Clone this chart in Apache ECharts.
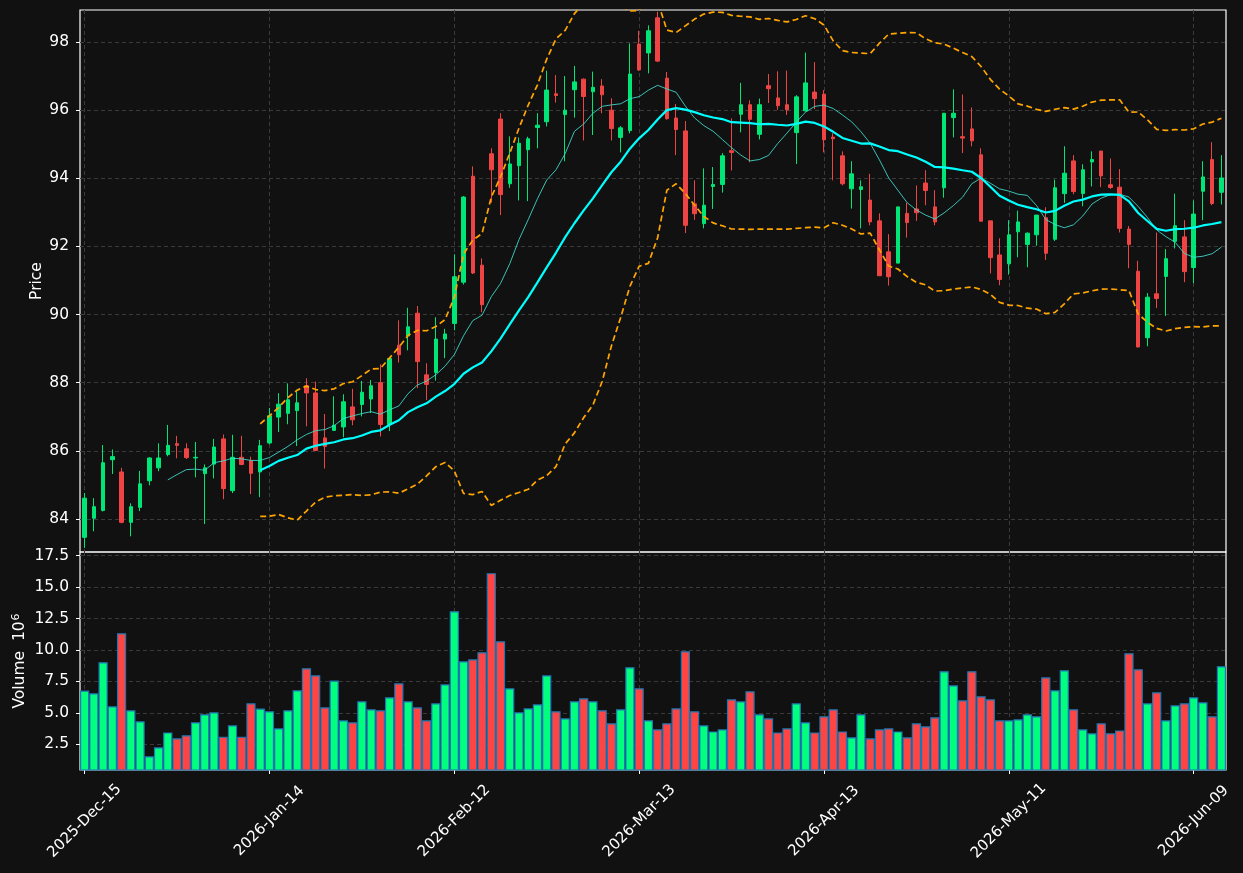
<!DOCTYPE html>
<html>
<head>
<meta charset="utf-8">
<script src="https://cdn.jsdelivr.net/npm/echarts@6/dist/echarts.min.js"></script>
<style>
    html, body { margin: 0; padding: 0; background: #111111; }
    #chart { width: 1243px; height: 873px; }
</style>
</head>
<body>
<div id="chart"></div>
<script>
// Daily OHLC (124 NYSE sessions from 2025-12-15)
const opens = [
    83.46, 84.02, 84.25, 85.74, 85.38, 83.90, 84.34, 85.12, 85.50, 85.89,
    86.21, 86.06, 85.79, 85.33, 85.61, 86.35, 84.83, 85.81, 85.71, 85.38,
    86.23, 86.99, 87.10, 87.18, 87.91, 87.70, 86.38, 86.60, 86.70, 87.29,
    87.36, 87.52, 88.00, 86.77, 89.10, 89.37, 90.04, 88.23, 88.30, 89.28,
    89.74, 90.95, 94.06, 91.45, 94.72, 95.74, 93.84, 94.37, 94.84, 95.49,
    95.66, 96.48, 95.87, 96.60, 96.91, 96.54, 96.71, 96.00, 95.20, 95.40,
    97.94, 97.68, 98.71, 96.94, 95.77, 95.39, 93.25, 92.67, 93.76, 93.82,
    94.81, 95.88, 96.16, 95.29, 96.72, 96.36, 96.16, 95.34, 95.98, 96.53,
    96.47, 95.21, 94.66, 93.69, 93.67, 93.36, 92.75, 91.84, 91.51, 92.97,
    93.10, 93.86, 93.16, 93.72, 95.78, 95.22, 95.45, 94.69, 92.75, 91.75,
    91.49, 92.43, 92.06, 92.34, 92.84, 92.21, 93.55, 94.51, 93.55, 94.48,
    94.80, 93.81, 93.74, 92.51, 91.27, 89.32, 90.61, 91.12, 92.15, 92.28,
    91.38, 93.62, 94.55, 93.59
];
const closes = [
    84.61, 84.36, 85.65, 85.83, 83.90, 84.36, 85.03, 85.79, 85.79, 86.16,
    86.16, 85.80, 85.81, 85.50, 86.11, 84.89, 85.81, 85.60, 85.34, 86.15,
    87.03, 87.37, 87.50, 87.41, 87.70, 86.01, 86.13, 86.75, 87.44, 86.91,
    87.72, 87.91, 86.77, 88.71, 88.82, 89.64, 88.62, 87.95, 89.28, 89.43,
    91.11, 93.45, 91.22, 90.29, 94.25, 93.52, 94.42, 95.03, 95.16, 95.56,
    96.59, 96.43, 96.00, 96.83, 96.40, 96.67, 96.45, 95.46, 95.48, 97.06,
    97.18, 98.33, 97.44, 95.75, 95.43, 92.62, 92.96, 93.21, 93.82, 94.66,
    94.76, 96.16, 95.73, 96.16, 96.63, 96.13, 96.01, 96.39, 96.80, 96.34,
    95.13, 95.16, 93.84, 94.13, 93.75, 92.72, 91.14, 91.11, 93.16, 92.70,
    92.99, 93.64, 92.72, 95.91, 95.91, 95.18, 95.10, 92.74, 91.67, 91.03,
    92.34, 92.72, 92.39, 92.92, 91.80, 93.72, 94.15, 93.61, 94.25, 94.55,
    94.07, 93.73, 92.53, 92.06, 89.05, 90.51, 90.47, 91.64, 92.61, 91.26,
    92.95, 94.04, 93.26, 94.01
];
const lows = [
    83.15, 83.64, 84.22, 85.32, 83.87, 83.49, 84.23, 84.99, 85.40, 85.84,
    85.78, 85.76, 85.22, 83.85, 85.19, 84.58, 84.76, 85.58, 84.73, 84.64,
    86.19, 86.55, 86.78, 86.14, 86.72, 85.99, 85.48, 86.58, 86.40, 86.75,
    87.01, 87.11, 86.42, 86.58, 88.59, 88.95, 87.84, 87.49, 88.06, 88.72,
    89.54, 90.88, 91.19, 90.07, 93.28, 92.92, 93.72, 93.35, 93.33, 94.88,
    95.52, 96.22, 94.50, 95.78, 95.11, 95.27, 95.91, 95.11, 94.76, 95.32,
    97.15, 97.08, 97.41, 95.72, 94.68, 92.39, 92.78, 92.53, 93.10, 93.58,
    94.23, 95.35, 94.47, 95.14, 96.21, 96.01, 95.86, 94.42, 95.96, 96.03,
    94.76, 93.94, 93.79, 93.11, 92.53, 92.62, 91.14, 90.85, 91.51, 92.26,
    92.75, 93.21, 92.62, 93.43, 95.20, 94.74, 94.94, 92.74, 91.21, 90.86,
    91.17, 91.68, 91.39, 92.02, 91.60, 92.16, 93.28, 93.53, 93.18, 93.76,
    93.74, 93.69, 92.41, 91.36, 89.03, 89.07, 90.19, 89.96, 91.94, 90.95,
    90.92, 92.77, 93.21, 93.23
];
const highs = [
    84.76, 84.61, 86.17, 86.04, 85.50, 84.46, 85.41, 85.81, 86.22, 86.76,
    86.44, 86.22, 86.26, 85.60, 86.35, 86.48, 86.47, 86.44, 85.83, 86.32,
    87.26, 87.69, 87.98, 87.75, 88.13, 88.03, 87.08, 87.60, 87.66, 87.82,
    88.05, 88.08, 88.54, 88.74, 89.83, 90.20, 90.25, 88.57, 89.92, 89.58,
    91.77, 93.48, 94.35, 91.65, 94.88, 95.91, 95.23, 95.20, 95.22, 95.91,
    97.16, 97.03, 97.00, 97.30, 96.93, 97.13, 96.91, 96.35, 95.53, 97.96,
    98.33, 98.49, 98.89, 97.12, 96.18, 95.68, 93.94, 94.29, 94.33, 94.74,
    95.76, 96.80, 96.29, 96.34, 97.06, 97.14, 97.16, 96.44, 97.69, 97.41,
    96.59, 95.32, 94.79, 94.50, 93.94, 94.13, 92.97, 92.36, 93.16, 93.28,
    93.79, 94.24, 93.65, 95.91, 96.61, 96.46, 96.08, 94.88, 92.75, 92.24,
    92.77, 93.05, 92.41, 92.92, 93.15, 93.96, 94.94, 94.68, 94.41, 94.79,
    94.80, 94.58, 94.27, 92.60, 91.58, 90.63, 92.41, 91.92, 93.55, 92.77,
    93.35, 94.50, 95.06, 94.68
];
// Volume in millions
const volumes = [
    6.77, 6.56, 9.03, 5.52, 11.33, 5.21, 4.33, 1.55, 2.26, 3.45,
    2.98, 3.22, 4.25, 4.89, 5.05, 3.11, 4.01, 3.11, 5.76, 5.34,
    5.13, 3.77, 5.21, 6.80, 8.55, 7.99, 5.44, 7.57, 4.41, 4.25,
    5.92, 5.29, 5.21, 6.24, 7.35, 5.92, 5.44, 4.41, 5.76, 7.27,
    13.08, 9.10, 9.26, 9.82, 16.11, 10.70, 6.96, 5.05, 5.36, 5.68,
    7.99, 5.13, 4.57, 5.92, 6.16, 5.92, 5.21, 4.17, 5.29, 8.63,
    6.96, 4.41, 3.69, 4.17, 5.36, 9.90, 5.13, 4.01, 3.53, 3.69,
    6.08, 5.92, 6.72, 4.89, 4.57, 3.45, 3.77, 5.76, 4.25, 3.45,
    4.73, 5.29, 3.53, 3.06, 4.89, 2.98, 3.69, 3.77, 3.53, 3.06,
    4.17, 3.93, 4.65, 8.31, 7.19, 6.00, 8.31, 6.32, 6.08, 4.41,
    4.41, 4.49, 4.89, 4.73, 7.83, 6.80, 8.39, 5.29, 3.69, 3.38,
    4.17, 3.38, 3.61, 9.74, 8.47, 5.76, 6.64, 4.41, 5.60, 5.76,
    6.24, 5.84, 4.73, 8.71
];

const PRICE_TICKS = [84, 86, 88, 90, 92, 94, 96, 98];
const VOLUME_TICKS = [2.5, 5, 7.5, 10, 12.5, 15, 17.5];
const HOLIDAYS = ['2025-12-25', '2026-01-01', '2026-01-19', '2026-02-16', '2026-04-03', '2026-05-25'];
const MONTHS = ['Jan', 'Feb', 'Mar', 'Apr', 'May', 'Jun', 'Jul', 'Aug', 'Sep', 'Oct', 'Nov', 'Dec'];

const FONT = 'DejaVu Sans';
const UP = '#00e676';
const DOWN = '#ef4444';

// Build trading-day labels like 2026-Jan-14
function tradingDays(start, count) {
    const days = [];
    const d = new Date(start + 'T00:00:00Z');
    while (days.length < count) {
        const iso = d.toISOString().slice(0, 10);
        const wd = d.getUTCDay();
        if (wd !== 0 && wd !== 6 && !HOLIDAYS.includes(iso)) {
            const dd = String(d.getUTCDate()).padStart(2, '0');
            days.push(d.getUTCFullYear() + '-' + MONTHS[d.getUTCMonth()] + '-' + dd);
        }
        d.setUTCDate(d.getUTCDate() + 1);
    }
    return days;
}
const dates = tradingDays('2025-12-15', closes.length);

function rollingMean(arr, n) {
    return arr.map((_, i) => {
        if (i < n - 1) return '-';
        let s = 0;
        for (let k = i - n + 1; k <= i; k++) s += arr[k];
        return +(s / n).toFixed(4);
    });
}

function rollingStd(arr, n) {
    return arr.map((_, i) => {
        if (i < n - 1) return '-';
        const win = arr.slice(i - n + 1, i + 1);
        const m = win.reduce((a, b) => a + b, 0) / n;
        const v = win.reduce((a, b) => a + (b - m) * (b - m), 0) / (n - 1);
        return Math.sqrt(v);
    });
}

const ma10 = rollingMean(closes, 10);
const ma20 = rollingMean(closes, 20);
const sd20 = rollingStd(closes, 20);
const upper = ma20.map((m, i) => m === '-' ? '-' : +(m + 2 * sd20[i]).toFixed(4));
const lower = ma20.map((m, i) => m === '-' ? '-' : +(m - 2 * sd20[i]).toFixed(4));

const candles = opens.map((o, i) => [o, closes[i], lows[i], highs[i]]);
const volumeBars = volumes.map((v, i) => ({
    value: v,
    itemStyle: { color: closes[i] >= opens[i] ? '#00ff7f' : '#ff4444' }
}));

const chart = echarts.init(document.getElementById('chart'), null, { renderer: 'canvas' });

const gridLine = { show: true, lineStyle: { color: '#3a3a3a', width: 1, type: [4, 3] } };
const labelStyle = { color: '#ffffff', fontSize: 15.5, fontFamily: FONT };
const xLabelStyle = { color: '#ffffff', fontSize: 15, fontFamily: FONT };

const option = {
    backgroundColor: '#111111',
    animation: false,
    grid: [
        { left: 80, top: 10, width: 1146, height: 542, show: true, borderColor: '#ffffff', borderWidth: 1.2, backgroundColor: 'transparent', outerBoundsMode: 'none' },
        { left: 80, top: 552, width: 1146, height: 218, show: true, borderColor: '#ffffff', borderWidth: 1.2, backgroundColor: 'transparent', outerBoundsMode: 'none' }
    ],
    xAxis: [
        {
            type: 'category', gridIndex: 0, data: dates, boundaryGap: true,
            axisLine: { show: false }, axisTick: { show: false }, axisLabel: { show: false },
            splitLine: Object.assign({ interval: 19, alignWithLabel: true }, gridLine)
        },
        {
            type: 'category', gridIndex: 1, data: dates, boundaryGap: true,
            axisLine: { show: false },
            axisTick: { show: true, interval: 19, alignWithLabel: true, length: 4, lineStyle: { color: '#ffffff' } },
            axisLabel: Object.assign({
                interval: 19, rotate: 45, align: 'center', verticalAlign: 'middle',
                margin: 51, hideOverlap: false
            }, xLabelStyle),
            splitLine: Object.assign({ interval: 19, alignWithLabel: true }, gridLine)
        }
    ],
    yAxis: [
        {
            type: 'value', gridIndex: 0, min: 83.03, max: 98.94, splitNumber: 8,
            name: 'Price', nameLocation: 'middle', nameGap: 35, nameMoveOverlap: false,
            nameTextStyle: labelStyle,
            axisLine: { show: false },
            axisTick: { show: true, length: 4, lineStyle: { color: '#ffffff' }, customValues: PRICE_TICKS },
            axisLabel: Object.assign({ margin: 11, customValues: PRICE_TICKS }, labelStyle),
            splitLine: gridLine
        },
        {
            type: 'value', gridIndex: 1, min: 0.46, max: 17.79,
            name: '{a|Volume  10}{b|6}', nameLocation: 'middle', nameGap: 51, nameMoveOverlap: false,
            nameTextStyle: {
                color: '#ffffff', fontFamily: FONT,
                rich: {
                    a: { color: '#ffffff', fontSize: 15.5, fontFamily: FONT },
                    b: { color: '#ffffff', fontSize: 11, fontFamily: FONT, verticalAlign: 'top', padding: [0, 0, 7, 1] }
                }
            },
            axisLine: { show: false },
            axisTick: { show: true, length: 4, lineStyle: { color: '#ffffff' }, customValues: VOLUME_TICKS },
            axisLabel: Object.assign({
                margin: 11, customValues: VOLUME_TICKS,
                formatter: v => Number(v).toFixed(1)
            }, labelStyle),
            splitLine: gridLine
        }
    ],
    series: [
        {
            name: 'OHLC', type: 'candlestick', xAxisIndex: 0, yAxisIndex: 0,
            data: candles, barWidth: 4,
            itemStyle: { color: UP, color0: DOWN, borderColor: UP, borderColor0: DOWN, borderWidth: 1 }
        },
        {
            name: 'MA10', type: 'line', xAxisIndex: 0, yAxisIndex: 0, data: ma10,
            symbol: 'none', lineStyle: { color: '#40e0d0', width: 1, opacity: 0.85 }
        },
        {
            name: 'MA20', type: 'line', xAxisIndex: 0, yAxisIndex: 0, data: ma20,
            symbol: 'none', lineStyle: { color: '#00ffff', width: 2.2 }
        },
        {
            name: 'Upper', type: 'line', xAxisIndex: 0, yAxisIndex: 0, data: upper,
            symbol: 'none', lineStyle: { color: '#ffa500', width: 1.7, type: [6, 3.5] }
        },
        {
            name: 'Lower', type: 'line', xAxisIndex: 0, yAxisIndex: 0, data: lower,
            symbol: 'none', lineStyle: { color: '#ffa500', width: 1.7, type: [6, 3.5] }
        },
        {
            name: 'Volume', type: 'bar', xAxisIndex: 1, yAxisIndex: 1, data: volumeBars,
            barWidth: '100%', barCategoryGap: 0,
            itemStyle: { borderColor: '#1f77b4', borderWidth: 1.2 }
        }
    ]
};

chart.setOption(option);
</script>
</body>
</html>
